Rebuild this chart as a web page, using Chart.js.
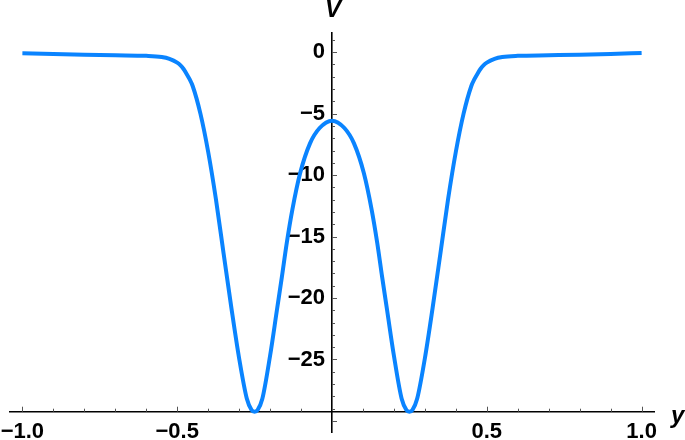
<!DOCTYPE html>
<html>
<head>
<meta charset="utf-8">
<title>V(y)</title>
<script src="https://cdn.jsdelivr.net/npm/chart.js@4/dist/chart.umd.min.js"></script>
<style>
  html, body { margin: 0; padding: 0; background: #fff; }
</style>
</head>
<body>
<canvas id="myChart" width="685" height="440"></canvas>
<script>
// values (curve is symmetric about y = 0)
const yValues = [
    -1.0, -0.9, -0.8, -0.7, -0.6, -0.55, -0.525, -0.5, -0.49, -0.48, -0.47, -0.46,
    -0.45, -0.425, -0.4, -0.375, -0.35, -0.325, -0.3, -0.275, -0.26, -0.25, -0.24,
    -0.225, -0.2, -0.178, -0.162, -0.146, -0.128, -0.103, -0.071, -0.04, 0,
    0.04, 0.071, 0.103, 0.128, 0.146, 0.162, 0.178, 0.2, 0.225,
    0.24, 0.25, 0.26, 0.275, 0.3, 0.325, 0.35, 0.375, 0.4, 0.425,
    0.45, 0.46, 0.47, 0.48, 0.49, 0.5, 0.525, 0.55, 0.6, 0.7, 0.8, 0.9, 1.0
];
const vValues = [
    -0.09, -0.15, -0.2, -0.25, -0.3, -0.4, -0.55, -0.85, -1.05, -1.35, -1.75, -2.2,
    -2.75, -5.0, -8.1, -11.95, -16.4, -20.8, -24.9, -28.2, -29.1, -29.25, -29.1,
    -28.2, -24.7, -21.0, -18.3, -15.5, -12.8, -9.85, -7.42, -6.17, -5.57,
    -6.17, -7.42, -9.85, -12.8, -15.5, -18.3, -21.0, -24.7, -28.2,
    -29.1, -29.25, -29.1, -28.2, -24.9, -20.8, -16.4, -11.95, -8.1, -5.0,
    -2.75, -2.2, -1.75, -1.35, -1.05, -0.85, -0.55, -0.4, -0.3, -0.25, -0.2, -0.14, -0.07
];

const xTickValues = [-1, -0.5, 0.5, 1];
const xTickLabels = ['\u22121.0', '\u22120.5', '0.5', '1.0'];
const yTickValues = [-25, -20, -15, -10, -5, 0];
const yTickLabels = ['\u221225', '\u221220', '\u221215', '\u221210', '\u22125', '0'];

const xAxisAt = -29.25; // where the horizontal axis crosses

const labelFont = { family: 'Liberation Sans, Arial, sans-serif', size: 22, weight: 'bold' };

// small inward tick marks, like the original
const axisTicks = {
    id: 'axisTicks',
    beforeDatasetsDraw(chart) {
        const { ctx, scales: { x, y } } = chart;
        const x0 = x.getPixelForValue(0);
        const y0 = y.getPixelForValue(xAxisAt);
        ctx.save();
        ctx.strokeStyle = '#555';
        ctx.lineWidth = 1;
        for (let i = -10; i <= 10; i++) {
            if (i === 0) continue;
            const px = Math.round(x.getPixelForValue(i / 10)) + 0.5;
            const len = i % 5 === 0 ? 5 : 3;
            ctx.beginPath();
            ctx.moveTo(px, y0);
            ctx.lineTo(px, y0 - len);
            ctx.stroke();
        }
        for (let j = 1; j >= -30; j--) {
            const py = Math.round(y.getPixelForValue(j)) + 0.5;
            const len = j % 5 === 0 ? 5 : 3;
            ctx.beginPath();
            ctx.moveTo(x0, py);
            ctx.lineTo(x0 + len, py);
            ctx.stroke();
        }
        ctx.restore();
    },
    afterDraw(chart) {
        const { ctx, scales: { x, y } } = chart;
        ctx.save();
        ctx.fillStyle = '#000';
        ctx.font = 'italic bold 24px "Liberation Sans", Arial, sans-serif';
        ctx.textAlign = 'center';
        ctx.textBaseline = 'alphabetic';
        ctx.fillText('V', x.getPixelForValue(0) + 1, 17);
        ctx.textAlign = 'left';
        ctx.fillText('y', x.right + 17, y.getPixelForValue(xAxisAt) + 11);
        ctx.restore();
    }
};

// axes sit inside the plot, so they take no room in the layout
function noRoom(scale) {
    if (scale.isHorizontal()) scale.height = 0;
    else scale.width = 0;
    scale.paddingLeft = 0;
    scale.paddingRight = 0;
    scale.paddingTop = 0;
    scale.paddingBottom = 0;
}

const ctx = document.getElementById('myChart').getContext('2d');
const myChart = new Chart(ctx, {
    type: 'line',
    data: {
        datasets: [{
            data: yValues.map((v, i) => ({ x: v, y: vValues[i] })),
            borderColor: '#0a84ff',
            borderWidth: 4,
            pointRadius: 0,
            fill: false,
            cubicInterpolationMode: 'monotone'
        }]
    },
    options: {
        responsive: false,
        animation: false,
        layout: { padding: { left: 10, right: 31, top: 33, bottom: 8 } },
        plugins: {
            legend: { display: false },
            tooltip: { enabled: false }
        },
        scales: {
            x: {
                type: 'linear',
                position: { y: xAxisAt },
                min: -1.04,
                max: 1.04,
                grid: { display: false, drawTicks: false },
                border: { display: true, color: '#000', width: 1.6 },
                afterFit: noRoom,
                afterBuildTicks: scale => { scale.ticks = xTickValues.map(v => ({ value: v })); },
                ticks: {
                    autoSkip: false,
                    maxRotation: 0,
                    padding: 7,
                    color: '#000',
                    font: labelFont,
                    callback: (val, i) => xTickLabels[i]
                }
            },
            y: {
                type: 'linear',
                position: 'center',
                min: -30.9,
                max: 1.56,
                grid: { display: false, drawTicks: false },
                border: { display: true, color: '#000', width: 1.6 },
                afterFit: noRoom,
                afterBuildTicks: scale => { scale.ticks = yTickValues.map(v => ({ value: v })); },
                ticks: {
                    autoSkip: false,
                    padding: 7,
                    color: '#000',
                    font: labelFont,
                    callback: (val, i) => yTickLabels[i]
                }
            }
        }
    },
    plugins: [axisTicks]
});
</script>
</body>
</html>
